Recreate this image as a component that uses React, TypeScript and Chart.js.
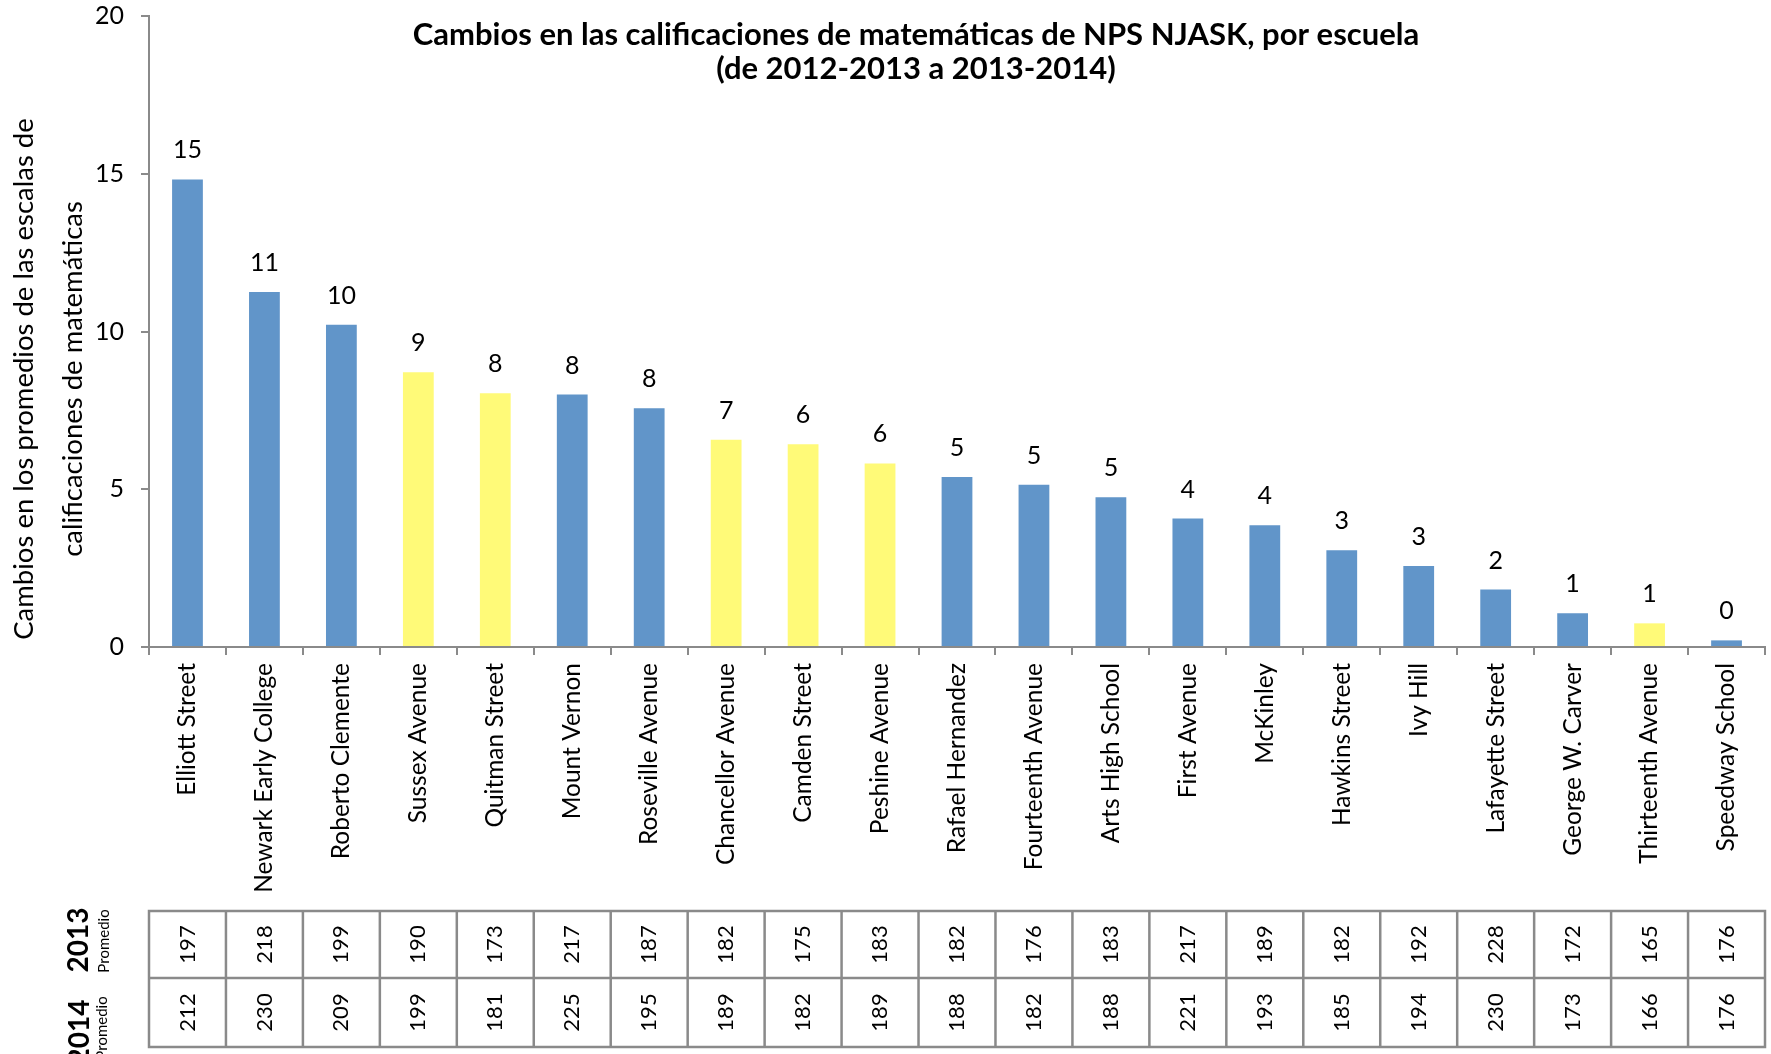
import React, { useEffect, useRef } from 'react';
import { Chart, registerables } from 'chart.js';

Chart.register(...registerables);

const schools = [
  'Elliott Street', 'Newark Early College', 'Roberto Clemente', 'Sussex Avenue', 'Quitman Street',
  'Mount Vernon', 'Roseville Avenue', 'Chancellor Avenue', 'Camden Street', 'Peshine Avenue',
  'Rafael Hernandez', 'Fourteenth Avenue', 'Arts High School', 'First Avenue', 'McKinley',
  'Hawkins Street', 'Ivy Hill', 'Lafayette Street', 'George W. Carver', 'Thirteenth Avenue', 'Speedway School',
];
const changes = [14.82, 11.25, 10.21, 8.71, 8.04, 8.0, 7.57, 6.57, 6.43, 5.82, 5.39, 5.14, 4.75, 4.07, 3.86, 3.07, 2.57, 1.82, 1.07, 0.75, 0.21];
const highlighted = [false, false, false, true, true, false, false, true, true, true, false, false, false, false, false, false, false, false, false, true, false];
const avg2013 = [197, 218, 199, 190, 173, 217, 187, 182, 175, 183, 182, 176, 183, 217, 189, 182, 192, 228, 172, 165, 176];
const avg2014 = [212, 230, 209, 199, 181, 225, 195, 189, 182, 189, 188, 182, 188, 221, 193, 185, 194, 230, 173, 166, 176];
const yTickValues = [0, 5, 10, 15, 20];
const titleLines = ['Cambios en las calificaciones de matemáticas de NPS NJASK, por escuela', '(de 2012-2013 a 2013-2014)'];
const yTitleLines = ['Cambios en los promedios de las escalas de', 'calificaciones de matemáticas'];
const rowLabels = ['2013', '2014'];
const rowSubLabel = 'Promedio';

const BLUE = '#6195C9';
const YELLOW = '#FFFA78';
const GREY = '#8a8a8a';
const FONT = 'Lato, "Open Sans", sans-serif';

const overlay = {
  id: 'overlay',
  beforeDraw(chart: any) {
    const ctx = chart.ctx;
    ctx.save();
    ctx.fillStyle = '#ffffff';
    ctx.fillRect(0, 0, chart.width, chart.height);
    ctx.restore();
  },
  afterDraw(chart: any) {
    const ctx = chart.ctx;
    const xs = chart.scales.x;
    ctx.save();
    ctx.fillStyle = '#000';

    // data labels
    const meta = chart.getDatasetMeta(0);
    ctx.font = `25px ${FONT}`;
    ctx.textAlign = 'center';
    ctx.textBaseline = 'alphabetic';
    meta.data.forEach((bar: any, i: number) => {
      ctx.fillText(String(Math.round(changes[i])), bar.x, bar.y - 21);
    });

    // chart title
    ctx.font = `bold 31px ${FONT}`;
    ctx.textBaseline = 'middle';
    ctx.fillText(titleLines[0], 916, 35);
    ctx.fillText(titleLines[1], 916, 69);

    // y-axis title
    ctx.font = `27.5px ${FONT}`;
    ctx.textBaseline = 'alphabetic';
    const yCenter = 379;
    [33, 82].forEach((bx, k) => {
      ctx.save();
      ctx.translate(bx, yCenter);
      ctx.rotate(-Math.PI / 2);
      ctx.fillText(yTitleLines[k], 0, 0);
      ctx.restore();
    });

    // table
    const top = 911, mid = 978, bottom = 1047;
    const n = schools.length;
    const w = (xs.right - xs.left) / n;
    ctx.strokeStyle = GREY;
    ctx.lineWidth = 2.5;
    ctx.strokeRect(xs.left, top, xs.right - xs.left, bottom - top);
    ctx.beginPath();
    ctx.moveTo(xs.left, mid);
    ctx.lineTo(xs.right, mid);
    for (let i = 1; i < n; i++) {
      const lx = xs.left + i * w;
      ctx.moveTo(lx, top);
      ctx.lineTo(lx, bottom);
    }
    ctx.stroke();

    ctx.font = `22px ${FONT}`;
    ctx.textAlign = 'center';
    ctx.textBaseline = 'middle';
    const rows = [avg2013, avg2014];
    rows.forEach((row, r) => {
      const cy = r === 0 ? (top + mid) / 2 : (mid + bottom) / 2;
      row.forEach((v, i) => {
        const cx = xs.getPixelForValue(i);
        ctx.save();
        ctx.translate(cx, cy);
        ctx.rotate(-Math.PI / 2);
        ctx.fillText(String(v), 0, 0);
        ctx.restore();
      });
    });

    // row labels
    const labelPos = [
      { big: [79, 940], small: [104, 941] },
      { big: [80, 1032], small: [102, 1028] },
    ];
    labelPos.forEach((p, r) => {
      ctx.save();
      ctx.translate(p.big[0], p.big[1]);
      ctx.rotate(-Math.PI / 2);
      ctx.font = `bold 28px ${FONT}`;
      ctx.fillText(rowLabels[r], 0, 0);
      ctx.restore();
      ctx.save();
      ctx.translate(p.small[0], p.small[1]);
      ctx.rotate(-Math.PI / 2);
      ctx.font = `15px ${FONT}`;
      ctx.fillText(rowSubLabel, 0, 0);
      ctx.restore();
    });

    ctx.restore();
  },
};

export default function App() {
  const ref = useRef<HTMLCanvasElement | null>(null);

  useEffect(() => {
    let chart: Chart | null = null;
    let cancelled = false;
    const build = () => {
      if (cancelled || !ref.current) return;
      chart = new Chart(ref.current, {
        type: 'bar',
        data: {
          labels: schools,
          datasets: [
            {
              data: changes,
              backgroundColor: highlighted.map((h) => (h ? YELLOW : BLUE)),
              borderWidth: 0,
              categoryPercentage: 1,
              barPercentage: 0.4,
            },
          ],
        },
        options: {
          responsive: false,
          animation: false,
          devicePixelRatio: 1,
          layout: { padding: { left: 0, right: 6, top: 16, bottom: 0 } },
          plugins: {
            legend: { display: false },
            tooltip: { enabled: false },
            title: { display: false },
          },
          scales: {
            x: {
              grid: { offset: true, drawOnChartArea: false, drawTicks: true, tickLength: 8, color: GREY, lineWidth: 2 },
              border: { color: GREY, width: 2 },
              ticks: {
                minRotation: 90,
                maxRotation: 90,
                autoSkip: false,
                padding: 8,
                color: '#000',
                font: { family: FONT, size: 24.5 },
              },
              afterFit: (axis: any) => {
                axis.height = 407;
                axis.paddingLeft = 0;
                axis.paddingRight = 0;
              },
            },
            y: {
              min: 0,
              max: 20,
              afterBuildTicks: (axis: any) => {
                axis.ticks = yTickValues.map((v) => ({ value: v }));
              },
              grid: { drawOnChartArea: false, drawTicks: true, tickLength: 8, color: GREY, lineWidth: 2 },
              border: { color: GREY, width: 2 },
              ticks: {
                padding: 17,
                color: '#000',
                font: { family: FONT, size: 25 },
              },
              afterFit: (axis: any) => {
                axis.width = 149;
                axis.paddingTop = 0;
                axis.paddingBottom = 0;
              },
            },
          },
        },
        plugins: [overlay],
      });
    };
    const fontsReady = (document as any).fonts
      ? Promise.all([
          (document as any).fonts.load(`24px Lato`),
          (document as any).fonts.load(`bold 24px Lato`),
        ]).catch(() => null)
      : Promise.resolve(null);
    fontsReady.then(build);
    return () => {
      cancelled = true;
      if (chart) chart.destroy();
    };
  }, []);

  return (
    <div style={{ position: 'absolute', left: 0, top: 0, width: 1771, height: 1054, background: '#fff' }}>
      <canvas ref={ref} width={1771} height={1054} style={{ display: 'block', width: 1771, height: 1054 }} />
    </div>
  );
}
